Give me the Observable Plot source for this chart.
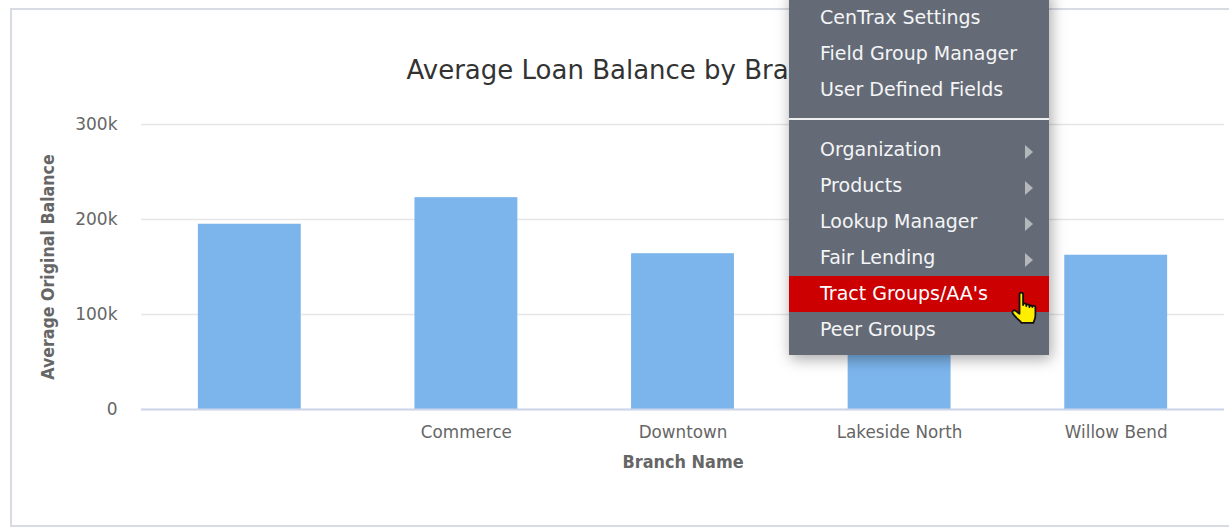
<!DOCTYPE html>
<html><head><meta charset="utf-8">
<script src="https://cdn.jsdelivr.net/npm/d3@7"></script>
<script src="https://cdn.jsdelivr.net/npm/@observablehq/plot@0.6"></script>
<style>
html,body{margin:0;padding:0;background:#fff;overflow:hidden;width:1229px;height:527px}
#wrap{position:relative;width:1229px;height:527px;overflow:hidden}
#frame{position:absolute;left:10px;top:8px;width:1300px;height:515px;border:2px solid #d8dbe3;box-sizing:content-box;}
#chart{position:absolute;left:0;top:0}
#menu{position:absolute;left:788.5px;top:-10px;width:260.5px;height:365px;background:#646b76;box-shadow:2px 4px 14px rgba(0,0,0,.35);font-family:"DejaVu Sans",sans-serif;font-size:19px;color:#f4f5f6}
#menu .row{position:absolute;left:0;width:100%;height:36px;line-height:35px;padding-left:31.5px;box-sizing:border-box;white-space:nowrap}
#menu .row.on{background:#cc0000;color:#fff}
#menu .arrow{position:absolute;left:236px;top:12.500px;width:0;height:0;border-left:8px solid #b4b8bd;border-top:7px solid transparent;border-bottom:7px solid transparent}
#menu .sep{position:absolute;left:0;width:100%;height:2px;background:#eceef0;top:128px}
#hand{position:absolute;left:1011px;top:291px}
</style></head><body>
<div id="wrap"><div id="frame"></div><div id="chart"></div><div id="menu"></div>
<svg id="hand" width="28" height="36" viewBox="0 0 28 36"><path d="M8.500 3.500c0-2.400 3.600-2.400 3.600 0v10.500c0-2.200 3.200-2.200 3.200 0v1c0-2.100 3.100-2.100 3.100 0v1c0-2 3-2 3 0 .1-1.800 3-1.800 3 .3v8c0 3.500-1 5-2 7.500H10.500C8 29 4 26 1.800 22.500c-1.200-2 .8-4 2.800-2.800l3.900 3z" fill="#ffee00" stroke="#111" stroke-width="1.800" stroke-linejoin="round"/></svg>
</div>
<script>
const branches = ["", "Commerce", "Downtown", "Lakeside North", "Willow Bend"];
const balances = [195000, 223000, 164000, 161000, 162400];
const yTicks = [0, 100000, 200000, 300000];
const yTickLabels = ["0", "100k", "200k", "300k"];
const chartTitle = "Average Loan Balance by Branch";
const xTitle = "Branch Name";
const yTitle = "Average Original Balance";
const menuTop = ["CenTrax Settings", "Field Group Manager", "User Defined Fields"];
const menuBottom = ["Organization", "Products", "Lookup Manager", "Fair Lending", "Tract Groups/AA's", "Peer Groups"];
const menuArrows = ["Organization", "Products", "Lookup Manager", "Fair Lending"];
const activeItem = "Tract Groups/AA's";

const rows = branches.map((b, i) => ({branch: b, value: balances[i]}));
const font = '"DejaVu Sans", sans-serif';
const condensed = '"DejaVu Sans Condensed", "DejaVu Sans", sans-serif';
const plot = Plot.plot({
  width: 1229, height: 527,
  marginLeft: 141, marginRight: 5, marginTop: 124, marginBottom: 118,
  style: {background: "transparent", fontFamily: font},
  x: {domain: branches, paddingInner: 0.525, paddingOuter: 0.2625, align: 0.5, round: false, label: null},
  y: {domain: [0, 300000], label: null},
  marks: [
    Plot.gridY(yTicks, {stroke: "#e6e6e6", strokeOpacity: 1, strokeWidth: 1.5}),
    Plot.barY(rows, {x: "branch", y: "value", fill: "#7cb5ec"}),
    Plot.ruleY([0], {stroke: "#ccd6eb", strokeWidth: 2}),
    Plot.axisY({ticks: yTicks, tickFormat: d => yTickLabels[yTicks.indexOf(d)], tickSize: 0, tickPadding: 24, fontSize: 17, fill: "#666666", label: null}),
    Plot.axisX({tickSize: 0, tickPadding: 17, fontSize: 16.8, fill: "#666666", label: null}),
    Plot.text([chartTitle], {frameAnchor: "top-left", dx: 265, dy: -63.5, fontSize: 26, fill: "#333333", textAnchor: "start"}),
    Plot.text([xTitle], {frameAnchor: "bottom", dy: 58.5, fontSize: 17.9, fontWeight: "bold", fill: "#666666", fontFamily: condensed}),
    Plot.text([yTitle], {frameAnchor: "left", dx: -93, textAnchor: "middle", rotate: -90, fontSize: 17.6, fontWeight: "bold", fill: "#666666", fontFamily: condensed})
  ]
});
document.getElementById("chart").appendChild(plot);

const menu = document.getElementById("menu");
const rowTops = [10, 46, 81.5, 142, 178, 214, 250, 286, 322];
[...menuTop, ...menuBottom].forEach((label, i) => {
  const r = document.createElement("div");
  r.className = "row" + (label === activeItem ? " on" : "");
  r.style.top = rowTops[i] + "px";
  r.textContent = label;
  if (menuArrows.includes(label)) {
    const a = document.createElement("span"); a.className = "arrow"; r.appendChild(a);
  }
  menu.appendChild(r);
});
const sep = document.createElement("div"); sep.className = "sep"; menu.appendChild(sep);
</script></body></html>
